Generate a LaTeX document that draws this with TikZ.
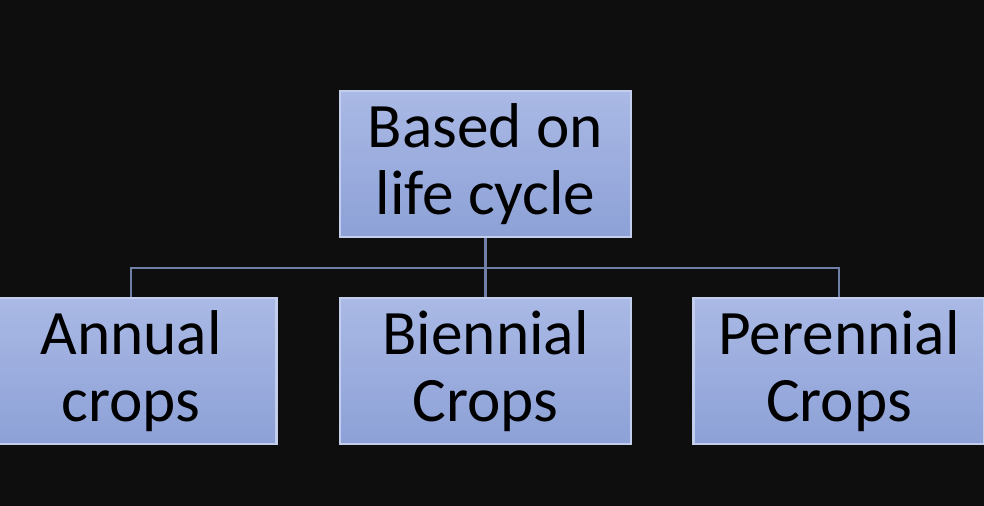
\documentclass[tikz,border=0pt]{standalone}
\usepackage{fontspec}
\setmainfont{Carlito}
\usetikzlibrary{positioning}
\definecolor{bgdark}{HTML}{0E0E0E}
\definecolor{boxtop}{HTML}{AAB9E5}
\definecolor{boxbot}{HTML}{8DA1D7}
\definecolor{boxline}{HTML}{C3CDEC}
\definecolor{linkline}{HTML}{6F7FA8}
\tikzset{cropbox/.style={draw=boxline, line width=0.6pt, top color=boxtop,
 bottom color=boxbot, minimum width=2.91cm, minimum height=1.46cm,
 align=center, font=\fontsize{18}{19}\selectfont, inner sep=0pt
}}
\begin{document}
\begin{tikzpicture}

\clip [preaction={fill=bgdark}] (0,0) rectangle (9.84,5.06);

\node [cropbox] (life) at (4.855,3.42) {Based on\\life cycle};
\node [cropbox] (annual) at (1.31,1.35) {Annual\\crops};
\node [cropbox] (biennial) at (4.855,1.35) {Biennial\\Crops};
\node [cropbox] (perennial) at (8.39,1.35) {Perennial\\Crops};

\coordinate (split) at (4.855,2.38);
\foreach \n in {annual, biennial, perennial}
\draw [linkline, line width=0.6pt]
  (life.south) -- (split) -| (\n.north);
\end{tikzpicture}
\end{document}
